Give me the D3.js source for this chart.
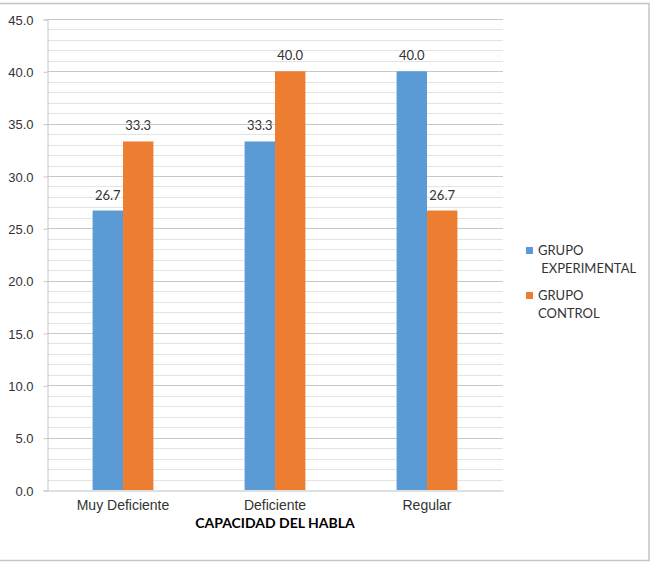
<!DOCTYPE html>
<html>
<head>
<meta charset="utf-8">
<script src="https://cdn.jsdelivr.net/npm/d3@7"></script>
<style>
  body { margin: 0; background: #fff; }
  svg { display: block; font-family: Lato, "Open Sans", sans-serif; }
  .tick text { font-size: 13px; fill: #333; }
</style>
</head>
<body>
<svg width="651" height="578"></svg>
<script>
// chart data
const categories = ["Muy Deficiente", "Deficiente", "Regular"];
const seriesNames = ["GRUPO EXPERIMENTAL", "GRUPO CONTROL"];
const experimental = [26.7, 33.3, 40.0];
const control = [33.3, 40.0, 26.7];
const yTicks = [0, 5, 10, 15, 20, 25, 30, 35, 40, 45];
const colors = ["#5B9BD5", "#ED7D31"];

const rows = categories.map((c, i) => ({ cat: c, values: [experimental[i], control[i]] }));

const plotLeft = 47, plotRight = 503, plotTop = 19, plotBottom = 490;

const svg = d3.select("svg");

// outer frame
svg.append("rect")
  .attr("x", -1).attr("y", 3.5)
  .attr("width", 650).attr("height", 557)
  .attr("fill", "none")
  .attr("stroke", "#c4c4c4")
  .attr("stroke-width", 1.5);

const y = d3.scaleLinear().domain([0, 45]).range([plotBottom, plotTop]);
const x0 = d3.scaleBand().domain(categories).range([plotLeft, plotRight]).paddingInner(0.6).paddingOuter(0.3);
const x1 = d3.scaleBand().domain([0, 1]).range([0, x0.bandwidth()]);

// minor grid
svg.append("g")
  .selectAll("line")
  .data(y.ticks(45).filter(t => t % 5 !== 0))
  .enter()
  .append("line")
  .attr("x1", plotLeft).attr("x2", plotRight)
  .attr("y1", d => Math.round(y(d)) + 0.5)
  .attr("y2", d => Math.round(y(d)) + 0.5)
  .attr("stroke", "#e3e3e3");

// major grid
svg.append("g")
  .selectAll("line")
  .data(yTicks.slice(1))
  .enter()
  .append("line")
  .attr("x1", plotLeft).attr("x2", plotRight)
  .attr("y1", d => Math.round(y(d)) + 0.5)
  .attr("y2", d => Math.round(y(d)) + 0.5)
  .attr("stroke", "#c8c8c8");

// y axis
const yAxis = svg.append("g")
  .attr("transform", `translate(${plotLeft + 0.5}, 0.5)`)
  .call(d3.axisLeft(y).tickValues(yTicks).tickFormat(d3.format(".1f")).tickSize(4).tickPadding(10));
yAxis.select(".domain").attr("stroke", "#c8c8c8");
yAxis.selectAll(".tick line").attr("stroke", "#c8c8c8");
yAxis.selectAll(".tick text").attr("dy", "0.36em");

// x axis
const xAxis = svg.append("g")
  .attr("transform", `translate(0, ${plotBottom + 0.5})`)
  .call(d3.axisBottom(x0).tickSize(0).tickPadding(10));
xAxis.select(".domain").attr("stroke", "#c0c0c0");
xAxis.selectAll(".tick text").style("font-size", "14px");

// bars
const groups = svg.append("g")
  .selectAll("g")
  .data(rows)
  .enter()
  .append("g")
  .attr("transform", d => `translate(${x0(d.cat)}, 0)`);

groups.selectAll("rect")
  .data(d => d.values)
  .enter()
  .append("rect")
  .attr("x", (v, i) => x1(i))
  .attr("y", v => y(v))
  .attr("width", x1.bandwidth())
  .attr("height", v => plotBottom - y(v))
  .attr("fill", (v, i) => colors[i]);

groups.selectAll("text")
  .data(d => d.values)
  .enter()
  .append("text")
  .attr("x", (v, i) => x1(i) + x1.bandwidth() / 2)
  .attr("y", v => y(v) - 11)
  .attr("text-anchor", "middle")
  .attr("font-size", 13)
  .attr("fill", "#333")
  .text(d3.format(".1f"));

// axis title
svg.append("text")
  .attr("x", (plotLeft + plotRight) / 2)
  .attr("y", 528)
  .attr("text-anchor", "middle")
  .attr("font-size", 14)
  .attr("font-weight", "bold")
  .attr("fill", "#000")
  .text("CAPACIDAD DEL HABLA");

// legend
const legendLines = [["GRUPO", " EXPERIMENTAL"], ["GRUPO", "CONTROL"]];
const legend = svg.append("g")
  .selectAll("g")
  .data(seriesNames)
  .enter()
  .append("g")
  .attr("transform", (d, i) => `translate(526, ${247 + i * 45})`);

legend.append("rect")
  .attr("width", 7).attr("height", 7)
  .attr("fill", (d, i) => colors[i]);

legend.append("text")
  .attr("font-size", 13)
  .attr("fill", "#333")
  .selectAll("tspan")
  .data((d, i) => legendLines[i])
  .enter()
  .append("tspan")
  .attr("x", 12)
  .attr("y", (d, j) => 8 + j * 18)
  .style("white-space", "pre")
  .text(d => d);
</script>
</body>
</html>
